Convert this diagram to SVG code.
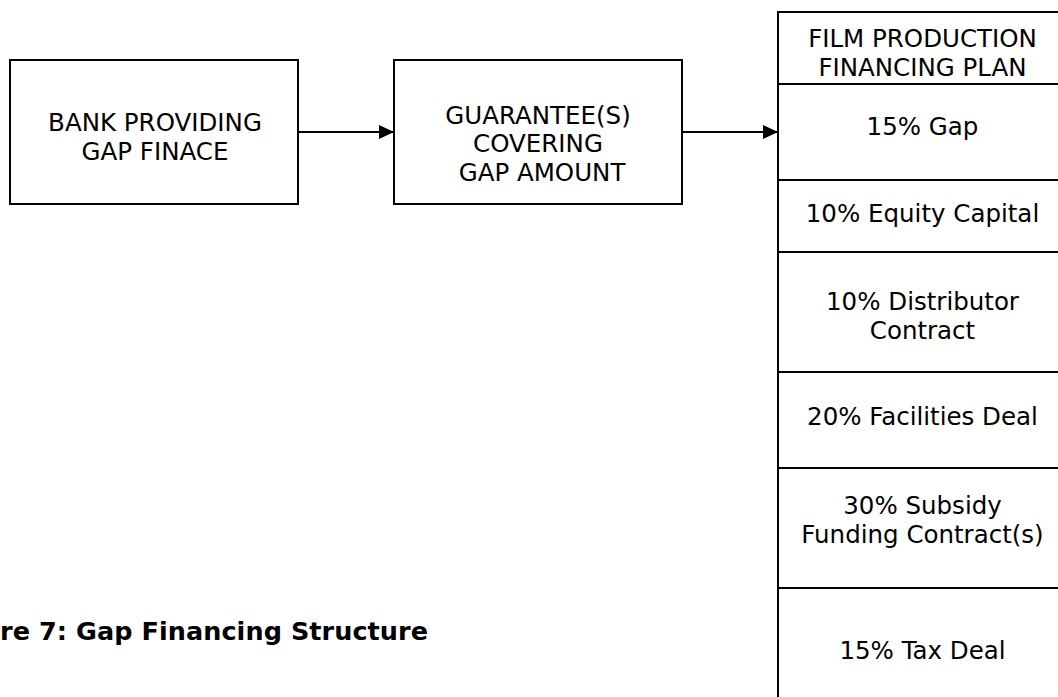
<svg xmlns="http://www.w3.org/2000/svg" width="1058" height="697" viewBox="0 0 1058 697">
  <style>
    .box { fill: #ffffff; stroke: #000000; stroke-width: 2; }
    .sep { stroke: #000000; stroke-width: 2; }
    .lbl { font-family: "DejaVu Sans", Verdana, sans-serif; font-size: 24.5px; fill: #000000; text-anchor: middle; }
    .edge { stroke: #000000; stroke-width: 2; fill: none; marker-end: url(#arrow); }
    .title { font-family: "DejaVu Sans", Verdana, sans-serif; font-size: 25.5px; font-weight: bold; fill: #000000; }
  </style>
  <defs>
    <marker id="arrow" markerWidth="16" markerHeight="14" refX="15" refY="7" orient="auto" markerUnits="userSpaceOnUse">
      <path d="M0,0 L15,7 L0,14 Z" fill="#000000"/>
    </marker>
  </defs>
  <rect width="1058" height="697" fill="#ffffff"/>

  <g id="bank">
    <rect class="box" x="10" y="60" width="288" height="144"/>
    <text class="lbl" x="155" y="131">BANK PROVIDING</text>
    <text class="lbl" x="155" y="160">GAP FINACE</text>
  </g>

  <g id="guarantee">
    <rect class="box" x="394" y="60" width="288" height="144"/>
    <text class="lbl" x="538" y="124">GUARANTEE(S)</text>
    <text class="lbl" x="538" y="152">COVERING</text>
    <text class="lbl" x="542" y="181">GAP AMOUNT</text>
  </g>

  <g id="financing-plan">
    <rect class="box" x="778" y="12" width="300" height="700"/>
    <line class="sep" x1="778" y1="84" x2="1078" y2="84"/>
    <line class="sep" x1="778" y1="180" x2="1078" y2="180"/>
    <line class="sep" x1="778" y1="252" x2="1078" y2="252"/>
    <line class="sep" x1="778" y1="372" x2="1078" y2="372"/>
    <line class="sep" x1="778" y1="468" x2="1078" y2="468"/>
    <line class="sep" x1="778" y1="588" x2="1078" y2="588"/>
    <text class="lbl" x="922.5" y="47">FILM PRODUCTION</text>
    <text class="lbl" x="922.5" y="76">FINANCING PLAN</text>
    <text class="lbl" x="922.5" y="135">15% Gap</text>
    <text class="lbl" x="922.5" y="222">10% Equity Capital</text>
    <text class="lbl" x="922.5" y="310">10% Distributor</text>
    <text class="lbl" x="922.5" y="339">Contract</text>
    <text class="lbl" x="922.5" y="425">20% Facilities Deal</text>
    <text class="lbl" x="922.5" y="514">30% Subsidy</text>
    <text class="lbl" x="922.5" y="543">Funding Contract(s)</text>
    <text class="lbl" x="922.5" y="659">15% Tax Deal</text>
  </g>

  <g id="connectors">
    <line class="edge" x1="298" y1="132" x2="394" y2="132"/>
    <line class="edge" x1="682" y1="132" x2="778" y2="132"/>
  </g>

  <text class="title" x="0" y="640" textLength="428" lengthAdjust="spacing">re 7: Gap Financing Structure</text>
</svg>
